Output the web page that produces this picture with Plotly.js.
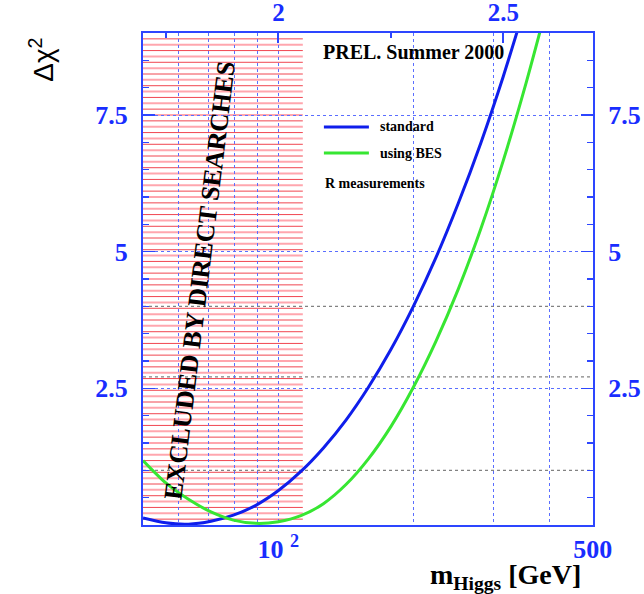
<!DOCTYPE html>
<html><head><meta charset="utf-8">
<script src="https://cdn.plot.ly/plotly-3.0.1.min.js"></script>
<style>html,body{margin:0;padding:0;background:#fff}#chart{width:644px;height:594px}</style>
</head><body><div id="chart"></div>
<script>
// ---- data ----
const massStandard  = [50, 56.2, 63.1, 70.8, 79.4, 89.1, 100, 112.2, 125.9, 141.3, 158.5, 177.8, 199.5, 223.9, 251.2, 281.8, 316.2, 354.8];
const dchi2Standard = [0.13, 0.04, 0.016, 0.07, 0.18, 0.36, 0.63, 0.98, 1.41, 1.92, 2.52, 3.21, 4.00, 4.89, 5.89, 6.99, 8.21, 9.55];
const massBES  = [50, 56.2, 63.1, 70.8, 79.4, 89.1, 100, 112.2, 125.9, 141.3, 158.5, 177.8, 199.5, 223.9, 251.2, 281.8, 316.2, 354.8, 398.1];
const dchi2BES = [1.18, 0.77, 0.47, 0.24, 0.09, 0.03, 0.06, 0.17, 0.39, 0.74, 1.21, 1.80, 2.52, 3.36, 4.32, 5.42, 6.67, 8.07, 9.60];
const excludedMassRange = [50, 113.3];
const referenceLevels = [1, 2.71, 4];
const xRangeMass = [50, 500];
const yRange = [0, 9];
const xTickVals = [100, 500];
const xTickText = ['10 <sup>2</sup>', '500'];
const xGridVals = [60, 70, 80, 90, 200, 300, 400];
const topTickVals = [2, 2.5];
const topTickText = ['2', '2.5'];
const topMinorVals = [1.75, 2.25];
const yTickVals = [2.5, 5, 7.5];
const yTickText = ['2.5', '5', '7.5'];
const seriesNames = ['standard', 'using BES'];
const legendNote = 'R measurements';

// ---- styles ----
const BLUE_AX = 'rgb(45,70,255)';
const BLUE_TXT = 'rgb(25,45,255)';
const BLUE_GRID = 'rgb(90,110,255)';
const BLUE_LINE = 'rgb(15,30,235)';
const GREEN_LINE = 'rgb(55,230,50)';
const serifBold = {family: 'Liberation Serif, Times New Roman, serif', weight: 'bold'};
const tickFont = Object.assign({size: 26, color: BLUE_TXT}, serifBold);
const topTickFont = Object.assign({size: 25, color: BLUE_TXT}, serifBold);

const logRange = xRangeMass.map(v => Math.log10(v));

const traces = [
  {x: massStandard, y: dchi2Standard, type: 'scatter', mode: 'lines', name: seriesNames[0],
   line: {color: BLUE_LINE, width: 3, shape: 'spline', smoothing: 0.8}, showlegend: false},
  {x: massBES, y: dchi2BES, type: 'scatter', mode: 'lines', name: seriesNames[1],
   line: {color: GREEN_LINE, width: 3, shape: 'spline', smoothing: 0.8}, showlegend: false},
  {x: [logRange[0]], y: [yRange[0]], xaxis: 'x2', yaxis: 'y2', type: 'scatter', mode: 'markers',
   marker: {opacity: 0}, showlegend: false, hoverinfo: 'skip'}
];

const shapes = [];
// hatched exclusion region
const nHatch = 84;
for (let k = 1; k < nHatch; k++) {
  const yv = yRange[0] + (yRange[1] - yRange[0]) * k / nHatch;
  const odd = k % 2 === 1;
  shapes.push({type: 'line', layer: 'below', xref: 'x', yref: 'y',
    x0: excludedMassRange[0], x1: excludedMassRange[1], y0: yv, y1: yv,
    line: {color: odd ? 'rgb(240,70,80)' : 'rgba(255,150,160,0.85)', width: odd ? 1 : 2}});
}
// reference Δχ² levels
referenceLevels.forEach(lv => shapes.push({type: 'line', layer: 'between', xref: 'paper', yref: 'y',
  x0: 0, x1: 1, y0: lv, y1: lv, line: {color: 'rgb(130,130,130)', width: 1.2, dash: 'dot'}}));
// legend samples
shapes.push({type: 'line', xref: 'paper', yref: 'paper', x0: 0.402, x1: 0.502, y0: 0.809, y1: 0.809,
  line: {color: BLUE_LINE, width: 3}});
shapes.push({type: 'line', xref: 'paper', yref: 'paper', x0: 0.402, x1: 0.502, y0: 0.756, y1: 0.756,
  line: {color: GREEN_LINE, width: 3}});

const legFont = Object.assign({size: 14, color: 'black'}, serifBold);
const annotations = [
  {xref: 'paper', yref: 'paper', x: 0.522, y: 0.809, xanchor: 'left', yanchor: 'middle', showarrow: false,
   text: seriesNames[0], font: legFont},
  {xref: 'paper', yref: 'paper', x: 0.522, y: 0.756, xanchor: 'left', yanchor: 'middle', showarrow: false,
   text: seriesNames[1], font: legFont},
  {xref: 'paper', yref: 'paper', x: 0.400, y: 0.695, xanchor: 'left', yanchor: 'middle', showarrow: false,
   text: legendNote, font: legFont},
  {xref: 'paper', yref: 'paper', x: 0.6, y: 0.961, xanchor: 'center', yanchor: 'middle', showarrow: false,
   text: 'PREL. Summer 2000', font: Object.assign({size: 20, color: 'black'}, serifBold)},
  {xref: 'paper', yref: 'paper', x: 0.127, y: 0.496, xanchor: 'center', yanchor: 'middle', showarrow: false,
   textangle: -83, text: 'EXCLUDED BY DIRECT SEARCHES', font: Object.assign({size: 26, color: 'black'}, serifBold)},
  {xref: 'paper', yref: 'paper', x: -0.225, y: 0.945, xanchor: 'center', yanchor: 'middle', showarrow: false,
   textangle: -90, text: 'Δχ<sup>2</sup>', font: {family: 'Liberation Sans, Arial, sans-serif', size: 28, color: 'black'}},
  {xref: 'paper', yref: 'paper', x: 0.805, y: -0.105, xanchor: 'center', yanchor: 'middle', showarrow: false,
   text: 'm<sub>Higgs</sub> [GeV]', font: Object.assign({size: 28, color: 'black'}, serifBold)}
];

const layout = {
  width: 644, height: 594,
  margin: {l: 143, r: 51, t: 33, b: 69},
  paper_bgcolor: 'white', plot_bgcolor: 'white',
  showlegend: false,
  xaxis: {type: 'log', range: [logRange[0], logRange[1] + 0.0003], tickmode: 'array',
    tickvals: xTickVals, ticktext: xTickText, ticks: '', tickfont: tickFont, ticklabelstandoff: 0,
    showgrid: true, gridcolor: BLUE_GRID, griddash: 'dot', gridwidth: 1,
    minor: {tickmode: 'array', tickvals: xGridVals, ticks: '', showgrid: true, gridcolor: BLUE_GRID, griddash: 'dot', gridwidth: 1},
    showline: true, linecolor: BLUE_AX, linewidth: 2, zeroline: false},
  xaxis2: {overlaying: 'x', side: 'top', type: 'linear', range: [logRange[0], logRange[1] + 0.0003],
    tickmode: 'array', tickvals: topTickVals, ticktext: topTickText, ticks: 'inside', ticklen: 10,
    tickcolor: BLUE_AX, tickwidth: 2, tickfont: topTickFont, ticklabelstandoff: 0, showgrid: false, showline: true,
    linecolor: BLUE_AX, linewidth: 2, zeroline: false,
    minor: {tickmode: 'array', tickvals: topMinorVals, ticks: 'inside', ticklen: 5, tickcolor: BLUE_AX, tickwidth: 1.5, showgrid: false}},
  yaxis: {range: yRange, tickmode: 'array', tickvals: yTickVals, ticktext: yTickText,
    ticks: 'inside', ticklen: 12, tickcolor: BLUE_AX, tickwidth: 1.5, tickfont: tickFont, ticklabelstandoff: 8,
    showgrid: true, gridcolor: BLUE_GRID, griddash: 'dot', gridwidth: 1,
    showline: true, linecolor: BLUE_AX, linewidth: 2, zeroline: false,
    minor: {tickmode: 'linear', tick0: 0, dtick: 0.5, ticks: 'inside', ticklen: 6, tickcolor: BLUE_AX, tickwidth: 1.5, showgrid: false}},
  yaxis2: {overlaying: 'y', side: 'right', range: yRange, tickmode: 'array', tickvals: yTickVals, ticktext: yTickText,
    ticks: 'inside', ticklen: 12, tickcolor: BLUE_AX, tickwidth: 1.5, tickfont: tickFont, ticklabelstandoff: 8,
    showgrid: false, showline: true, linecolor: BLUE_AX, linewidth: 2, zeroline: false,
    minor: {tickmode: 'linear', tick0: 0, dtick: 0.5, ticks: 'inside', ticklen: 6, tickcolor: BLUE_AX, tickwidth: 1.5, showgrid: false}},
  shapes: shapes,
  annotations: annotations
};

Plotly.newPlot('chart', traces, layout, {displayModeBar: false, staticPlot: true});
</script></body></html>
